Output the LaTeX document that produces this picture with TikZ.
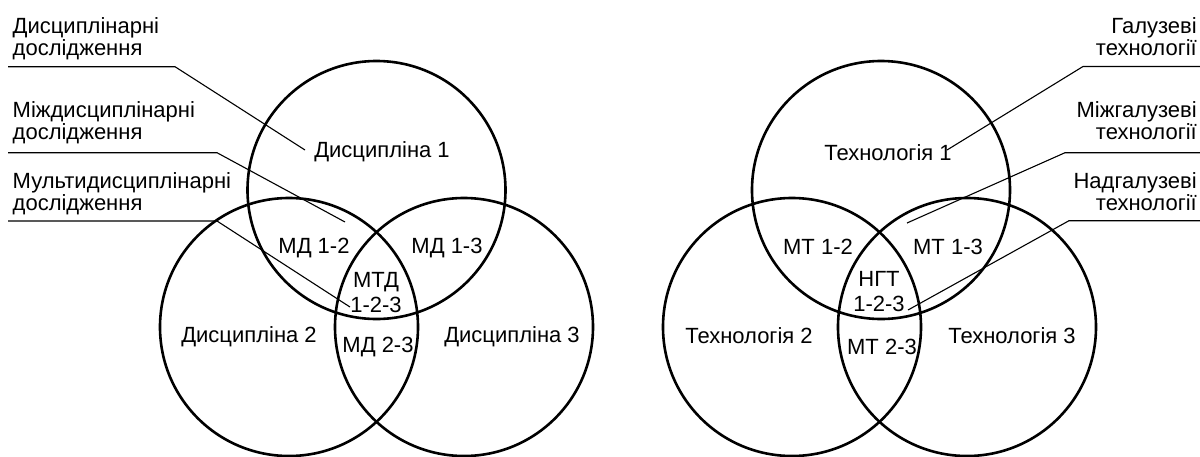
\documentclass[tikz,border=0pt]{standalone}
\usepackage{fontspec}
\setmainfont{Liberation Sans}
\begin{document}
\begin{tikzpicture}[x=1pt,y=-1pt,
  venn/.style={draw, line width=2.6pt},
  leader/.style={line width=1.1pt},
  txt/.style={font=\fontsize{22}{22}\selectfont, inner sep=0pt},
  lbll/.style={txt, align=left, anchor=north west},
  lblr/.style={txt, align=right, anchor=north east},
  intext/.style={txt, align=center, font=\fontsize{22}{25}\selectfont}]
\useasboundingbox (0,0) rectangle (1200,456);
\clip (0,0) rectangle (1200,456);
% circle centres
\coordinate (A1) at (376.5,190);
\coordinate (A2) at (289,327);
\coordinate (A3) at (464,327);
\coordinate (B1) at (881,190);
\coordinate (B2) at (792,327);
\coordinate (B3) at (967,327);
\foreach \c in {A1,A2,A3,B1,B2,B3} \draw[venn] (\c) circle (129);
% texts inside, left
\node[txt] (d1) at (382,152) {Дисципліна 1};
\node[txt] (d2) at (249,337) {Дисципліна 2};
\node[txt] (d3) at (512,337) {Дисципліна 3};
\node[txt] (md12) at (314,248) {МД 1-2};
\node[txt] (md13) at (447,248) {МД 1-3};
\node[txt] (md23) at (378,347) {МД 2-3};
\node[intext] (mtd) at (376,292.5) {МТД\\1-2-3};
% texts inside, right
\node[txt] (t1) at (888,153) {Технологія 1};
\node[txt] (t2) at (749,336) {Технологія 2};
\node[txt] (t3) at (1012,336) {Технологія 3};
\node[txt] (mt12) at (818,247) {МТ 1-2};
\node[txt] (mt13) at (948,247) {МТ 1-3};
\node[txt] (mt23) at (882,347) {МТ 2-3};
\node[intext] (ngt) at (879,292) {НГТ\\1-2-3};
% labels left
\node[lbll] (L1) at (12.5,17.6) {Дисциплінарні\\дослідження};
\node[lbll] (L2) at (12.5,101.6) {Міждисциплінарні\\дослідження};
\node[lbll] (L3) at (12.5,172.6) {Мультидисциплінарні\\дослідження};
% labels right
\node[lblr] (R1) at (1197,17.6) {Галузеві\\технології};
\node[lblr] (R2) at (1197,101.6) {Міжгалузеві\\технології};
\node[lblr] (R3) at (1197,172.6) {Надгалузеві\\технології};
% leader points
\coordinate (l1a) at (8,66.7);   \coordinate (l1b) at (175,66.7);  \coordinate (l1c) at (305,150);
\coordinate (l2a) at (8,152.7);  \coordinate (l2b) at (217,152.7); \coordinate (l2c) at (345,222);
\coordinate (l3a) at (8,221);    \coordinate (l3b) at (217,221);   \coordinate (l3c) at (350,307);
\coordinate (r1a) at (1200,66.5); \coordinate (r1b) at (1083,66.5); \coordinate (r1c) at (947,150);
\coordinate (r2a) at (1200,152.7);\coordinate (r2b) at (1065,152.7);\coordinate (r2c) at (907,223);
\coordinate (r3a) at (1200,220.7);\coordinate (r3b) at (1069,220.7);\coordinate (r3c) at (908,310);
\draw[leader] (l1a) -- (l1b) -- (l1c);
\draw[leader] (l2a) -- (l2b) -- (l2c);
\draw[leader] (l3a) -- (l3b) -- (l3c);
\draw[leader] (r1a) -- (r1b) -- (r1c);
\draw[leader] (r2a) -- (r2b) -- (r2c);
\draw[leader] (r3a) -- (r3b) -- (r3c);
\end{tikzpicture}
\end{document}
